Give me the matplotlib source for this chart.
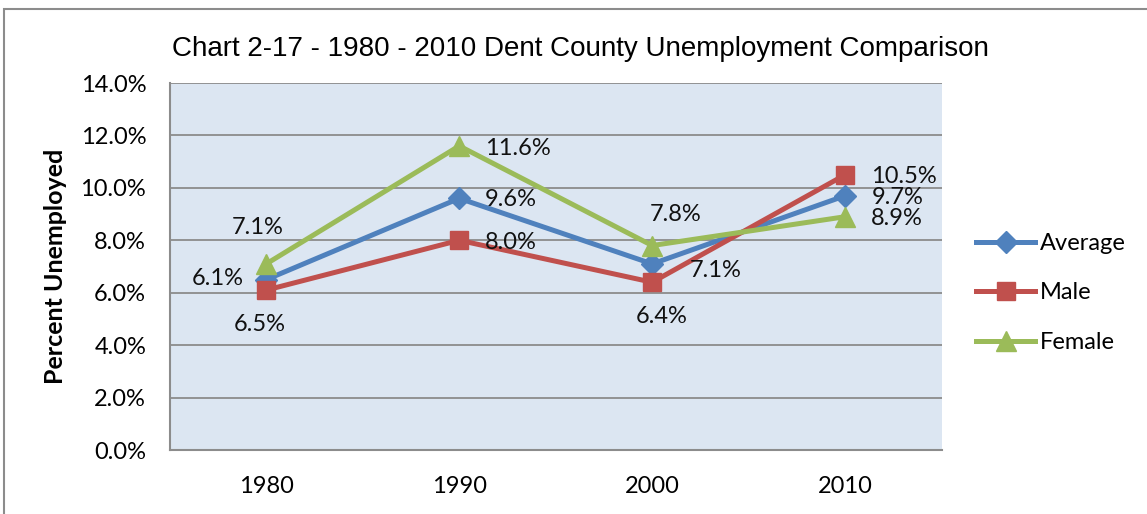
import matplotlib
matplotlib.use('Agg')
import matplotlib.pyplot as plt
from matplotlib.patches import Rectangle

plt.rcParams['font.family'] = ['Lato', 'DejaVu Sans']

years = ['1980', '1990', '2000', '2010']
average = [6.5, 9.6, 7.1, 9.7]
male = [6.1, 8.0, 6.4, 10.5]
female = [7.1, 11.6, 7.8, 8.9]

# label texts as printed on the chart
avg_labels = ['6.1%', '9.6%', '7.1%', '9.7%']
male_labels = ['6.5%', '8.0%', '6.4%', '10.5%']
female_labels = ['7.1%', '11.6%', '7.8%', '8.9%']

yticks = [0, 2, 4, 6, 8, 10, 12, 14]

c_avg = '#4F81BD'
c_male = '#C0504D'
c_fem = '#9BBB59'

fig = plt.figure(figsize=(11.47, 5.14), dpi=100)
ax = fig.add_axes([0.148, 0.1245, 0.673, 0.714])
ax.set_facecolor('#DCE6F2')

x = list(range(len(years)))
lw = 3.6
ax.plot(x, average, color=c_avg, lw=lw, marker='D', ms=11, label='Average', zorder=3)
ax.plot(x, male, color=c_male, lw=lw, marker='s', ms=13, label='Male', zorder=3)
ax.plot(x, female, color=c_fem, lw=lw, marker='^', ms=14, label='Female', zorder=3)

# label offsets in points (dx, dy)
avg_off = [(-35, 1), (37, -1), (46, -5), (37.5, -1)]
male_off = [(-5, -25), (37, -1.5), (7, -25), (42.5, -1.5)]
fem_off = [(-6, 26), (42.5, -1.5), (17, 22), (37.5, -1)]
fs = 17
for vals, labs, offs in [(average, avg_labels, avg_off),
                         (male, male_labels, male_off),
                         (female, female_labels, fem_off)]:
    for i, (v, t, o) in enumerate(zip(vals, labs, offs)):
        ax.annotate(t, (i, v), xytext=o, textcoords='offset points',
                    ha='center', va='center', fontsize=fs, color='#111111', zorder=4)

ax.set_xlim(-0.5, 3.5)
ax.set_ylim(0, 14)
ax.set_yticks(yticks)
ax.set_yticklabels(['%.1f%%' % v for v in yticks])
ax.set_xticks(x)
ax.set_xticklabels(years)
ax.tick_params(axis='y', length=0, pad=17, labelsize=fs)
ax.tick_params(axis='x', length=0, pad=19, labelsize=fs)
ax.grid(axis='y', color='#8C8C8C', lw=1.3, zorder=1)
ax.set_axisbelow(True)
for s in ['top', 'right']:
    ax.spines[s].set_visible(False)
for s in ['left', 'bottom']:
    ax.spines[s].set_color('#8C8C8C')
    ax.spines[s].set_linewidth(1.5)

ax.set_ylabel('Percent Unemployed', fontsize=18, fontweight='bold', labelpad=10)

fig.text(0.506, 0.905, 'Chart 2-17 - 1980 - 2010 Dent County Unemployment Comparison',
         ha='center', va='center', fontsize=20,
         family=['Liberation Sans', 'DejaVu Sans'])

leg = ax.legend(loc='center left', bbox_to_anchor=(0.841, 0.43),
                bbox_transform=fig.transFigure, frameon=False, fontsize=fs,
                handlelength=2.5, handletextpad=0.2, labelspacing=1.2,
                borderpad=0)

fig.patches.append(Rectangle((4 / 1147, -0.1), 1.2, (514 - 9) / 514 + 0.1,
                             transform=fig.transFigure, fill=False,
                             edgecolor='#8C8C8C', lw=1.5))

fig.savefig('out.png', dpi=100)
